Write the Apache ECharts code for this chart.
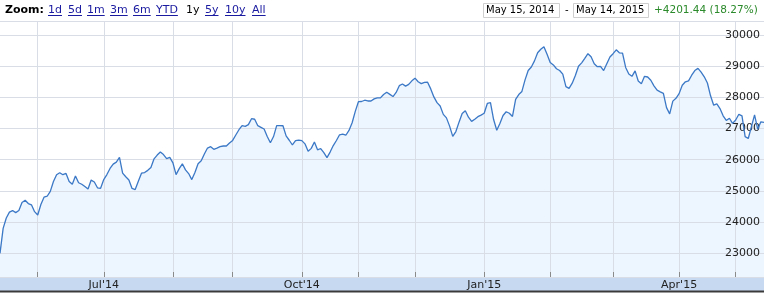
<!DOCTYPE html>
<html><head><meta charset="utf-8">
<script src="https://cdn.jsdelivr.net/npm/echarts@6/dist/echarts.min.js"></script>
<style>html,body{margin:0;padding:0;background:#fff}#c{width:764px;height:293px}</style>
</head><body><div id="c"></div>
<script>
// ---- data (daily closes, grouped by month) ----
const may14 = [23000, 23800, 24130, 24320, 24370, 24305, 24370, 24630, 24700, 24595, 24555, 24335];
const jun14 = [24230, 24565, 24800, 24830, 24985, 25300, 25520, 25585, 25520, 25560, 25300, 25213, 25480, 25263, 25215, 25140, 25060, 25348, 25285, 25100, 25083];
const jul14 = [25365, 25525, 25720, 25860, 25925, 26075, 25570, 25454, 25353, 25080, 25045, 25310, 25570, 25590, 25660, 25753, 26030, 26150, 26250, 26165, 26038, 26077];
const aug14 = [25900, 25523, 25715, 25870, 25675, 25557, 25363, 25590, 25873, 25965, 26185, 26375, 26418, 26335, 26374, 26421, 26441, 26441, 26535];
const sep14 = [26620, 26793, 26963, 27093, 27072, 27125, 27316, 27298, 27092, 27040, 26987, 26746, 26546, 26743, 27093, 27097, 27090, 26766, 26625, 26473, 26613, 26630];
const oct14 = [26612, 26510, 26274, 26365, 26570, 26318, 26360, 26226, 26067, 26246, 26455, 26617, 26800, 26820, 26786, 26940, 27185, 27550];
const nov14 = [27862, 27868, 27908, 27884, 27884, 27952, 27983, 27985, 28090, 28163, 28096, 28025, 28157, 28375, 28430, 28360, 28417, 28530];
const dec14 = [28615, 28500, 28440, 28480, 28488, 28272, 28015, 27830, 27722, 27455, 27343, 27078, 26750, 26905, 27205, 27480, 27572, 27365, 27230, 27300, 27381, 27430];
const jan15 = [27490, 27805, 27830, 27290, 26947, 27160, 27418, 27540, 27490, 27387, 27935, 28090, 28190, 28560, 28860, 28975, 29170, 29430, 29542, 29620, 29380];
const feb15 = [29117, 29040, 28917, 28862, 28745, 28345, 28290, 28455, 28700, 29000, 29108, 29250, 29400, 29300, 29080, 28985, 28997, 28860, 29080, 29295];
const mar15 = [29400, 29525, 29430, 29420, 28960, 28750, 28675, 28850, 28525, 28440, 28675, 28653, 28550, 28370, 28230, 28178, 28130, 27670, 27470, 27880, 27970];
const apr15 = [28120, 28390, 28500, 28530, 28710, 28860, 28930, 28810, 28660, 28460, 28050, 27750, 27790, 27640, 27410, 27260, 27330, 27165];
const may15 = [27275, 27457, 27405, 26740, 26680, 27060, 27440, 26980, 27215, 27197];

const monthLabels = ["May'14","Jun'14","Jul'14","Aug'14","Sep'14","Oct'14","Nov'14","Dec'14","Jan'15","Feb'15","Mar'15","Apr'15","May'15"];
const monthValues = [may14, jun14, jul14, aug14, sep14, oct14, nov14, dec14, jan15, feb15, mar15, apr15, may15];
const quarterLabels = ["Jul'14","Oct'14","Jan'15","Apr'15"];
const zoomLinks = ["1d","5d","1m","3m","6m","YTD","1y","5y","10y","All"];
const zoomSelected = "1y";
const startDate = "May 15, 2014";
const endDate = "May 14, 2015";
const changeText = "+4201.44 (18.27%)";

// ---- build category axis (one category per trading day) ----
const categories = [], values = [];
monthLabels.forEach((m, mi) => monthValues[mi].forEach((v, di) => { categories.push(m + '#' + di); values.push(v); }));
const isMonthStart = (idx, val) => idx > 0 && String(val).endsWith('#0');
const isQuarterStart = (idx, val) => { const p = String(val).split('#'); return p[1] === '0' && quarterLabels.includes(p[0]); };

const FONT = '"DejaVu Sans", Verdana, sans-serif';
const cv = document.createElement('canvas').getContext('2d');
function tw(t, f) { cv.font = f; return cv.measureText(t).width; }

// ---- header graphics ----
const zoomX = [48, 68, 87, 110, 133, 156, 186, 205, 225, 252];
const graphics = [];
graphics.push({type:'text', x:5, y:10, style:{text:'Zoom:', font:'bold 11px ' + FONT, fill:'#000', verticalAlign:'middle', textVerticalAlign:'middle'}});
zoomLinks.forEach((t, i) => {
  const sel = t === zoomSelected;
  const f = '11px ' + FONT;
  graphics.push({type:'text', x:zoomX[i], y:10, style:{text:t, font:f, fill: sel ? '#000' : '#1a1aa0', verticalAlign:'middle', textVerticalAlign:'middle'}});
  if (!sel) graphics.push({type:'line', shape:{x1:zoomX[i], y1:15.5, x2:zoomX[i] + tw(t, f), y2:15.5}, style:{stroke:'#1a1aa0', lineWidth:1}});
});
graphics.push({type:'rect', shape:{x:483.5, y:3.5, width:76, height:14}, style:{fill:'#fff', stroke:'#cfcfcf', lineWidth:1}});
graphics.push({type:'text', x:486, y:10.5, style:{text:startDate, font:'10px ' + FONT, fill:'#000', verticalAlign:'middle', textVerticalAlign:'middle'}});
graphics.push({type:'text', x:565, y:10.5, style:{text:'-', font:'10px ' + FONT, fill:'#000', verticalAlign:'middle', textVerticalAlign:'middle'}});
graphics.push({type:'rect', shape:{x:573.5, y:3.5, width:75, height:14}, style:{fill:'#fff', stroke:'#cfcfcf', lineWidth:1}});
graphics.push({type:'text', x:576, y:10.5, style:{text:endDate, font:'10px ' + FONT, fill:'#000', verticalAlign:'middle', textVerticalAlign:'middle'}});
graphics.push({type:'text', x:654, y:10.5, style:{text:changeText, font:'10.5px ' + FONT, fill:'#2b8a2b', verticalAlign:'middle', textVerticalAlign:'middle'}});
graphics.push({type:'line', shape:{x1:0, y1:21.5, x2:764, y2:21.5}, style:{stroke:'#d0d0d0', lineWidth:1}});
// x-axis band
graphics.push({type:'rect', z:-10, shape:{x:0, y:277, width:764, height:14}, style:{fill:'#c6d9f1'}});
graphics.push({type:'rect', z:-10, shape:{x:0, y:290.5, width:764, height:2}, style:{fill:'#3a3a3a'}});

const chart = echarts.init(document.getElementById('c'), null, {renderer:'canvas'});
chart.setOption({
  animation:false,
  backgroundColor:'#fff',
  grid:{left:-2, right:0, top:21, bottom:16, containLabel:false},
  xAxis:{
    type:'category', data:categories, boundaryGap:false, z:3,
    axisLine:{show:false},
    axisTick:{show:true, inside:true, length:5, interval:isMonthStart, lineStyle:{color:'#8a8a8a'}},
    axisLabel:{interval:isQuarterStart, formatter:v => String(v).split('#')[0], color:'#222', fontSize:11, fontFamily:FONT, margin:3},
    splitLine:{show:true, interval:isMonthStart, lineStyle:{color:'#d9dde6', width:1}}
  },
  yAxis:{
    type:'value', position:'right', min:22240, max:30449, splitNumber:8, minInterval:1000, maxInterval:1000, z:3,
    axisLine:{show:false}, axisTick:{show:false},
    axisLabel:{inside:true, margin:4, verticalAlign:'middle', padding:[0,0,7,0], color:'#222', fontSize:11, fontFamily:FONT,
      showMinLabel:false, showMaxLabel:false, formatter:v => (v % 1000 === 0 ? String(v) : '')},
    splitLine:{show:true, lineStyle:{color:'#d9dde6', width:1}}
  },
  series:[{
    name:'area', type:'line', data:values, showSymbol:false, symbol:'none', smooth:false,
    lineStyle:{width:0, opacity:0},
    areaStyle:{color:'#edf5fe', opacity:1, origin:'start'},
    z:1, silent:true
  },{
    name:'close', type:'line', data:values, showSymbol:false, symbol:'none', smooth:false,
    lineStyle:{color:'#3b78c6', width:1.3},
    z:5
  }],
  graphic:graphics
});
</script></body></html>
